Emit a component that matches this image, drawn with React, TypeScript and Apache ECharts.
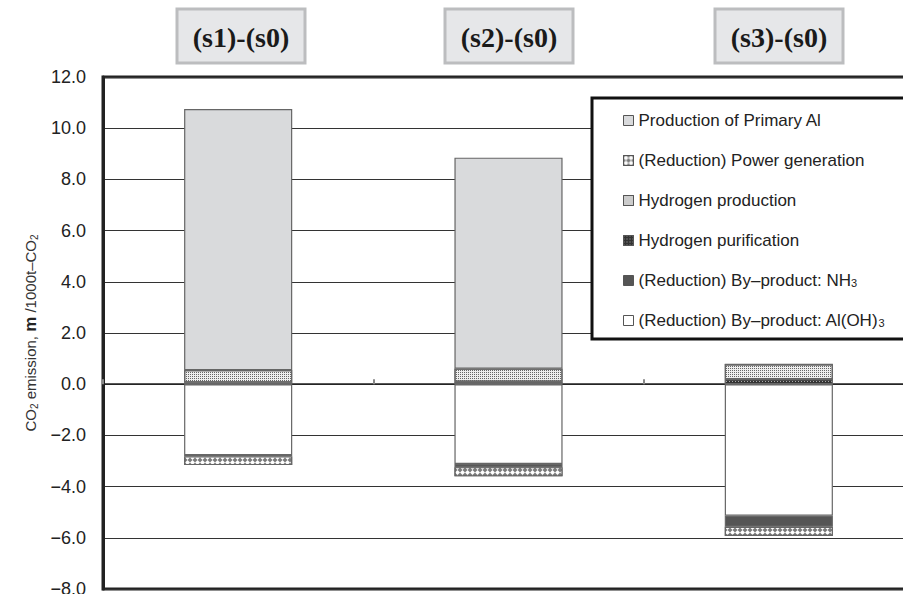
import React, { useEffect, useRef } from 'react';
import * as echarts from 'echarts';

const categories = ['(s1)-(s0)', '(s2)-(s0)', '(s3)-(s0)'];
const hydrogenPurification = [0.07, 0.1, 0.2];
const hydrogenProduction = [0.48, 0.51, 0.58];
const primaryAl = [10.2, 8.24, 0];
const byproductAlOH3 = [-2.77, -3.12, -5.14];
const byproductNH3 = [-0.05, -0.12, -0.43];
const powerGeneration = [-0.34, -0.36, -0.36];
const yMin = -8;
const yMax = 12;
const yInterval = 2;

const N_PRIMARY = 'Production of Primary Al';
const N_POWER = '(Reduction) Power generation';
const N_H2PROD = 'Hydrogen production';
const N_H2PUR = 'Hydrogen purification';
const N_NH3 = '(Reduction) By\u2013product: NH3';
const N_ALOH = '(Reduction) By\u2013product: Al(OH)3';
const legendOrder = [N_PRIMARY, N_POWER, N_H2PROD, N_H2PUR, N_NH3, N_ALOH];

const titleCenters = [241, 509, 779];

const SANS = '"Liberation Sans", Arial, sans-serif';

export default function App() {
  const ref = useRef<HTMLDivElement>(null);
  useEffect(() => {
    if (!ref.current) return;
    const chart = echarts.init(ref.current, null, { renderer: 'svg' });
    const border = { borderColor: '#666', borderWidth: 1.2 };
    const mk = (name: string, data: number[], itemStyle: any) => ({
      name,
      type: 'bar',
      stack: 'total',
      barWidth: '40%',
      data,
      itemStyle: { ...border, ...itemStyle },
      emphasis: { disabled: true },
    });
    const graphic: any[] = [
      {
        type: 'rect',
        z: 10,
        shape: { x: 592, y: 98, width: 330, height: 241 },
        style: { fill: '#fff', stroke: '#111', lineWidth: 3 },
      },
    ];
    categories.forEach((c, i) => {
      graphic.push({
        type: 'rect',
        z: 10,
        shape: { x: titleCenters[i] - 64, y: 9, width: 128, height: 54 },
        style: { fill: '#e6e7e9', stroke: '#bcbdbf', lineWidth: 3 },
      });
      graphic.push({
        type: 'text',
        z: 11,
        x: titleCenters[i],
        y: 37,
        style: {
          text: c,
          font: 'bold 28px "Liberation Serif", serif',
          fill: '#1a1a1a',
          align: 'center',
          verticalAlign: 'middle',
        },
      });
    });
    chart.setOption({
      animation: false,
      backgroundColor: '#fff',
      grid: {
        left: 103,
        top: 77,
        width: 811,
        height: 512,
        containLabel: false,
        outerBoundsMode: 'none',
        show: true,
        borderColor: '#222',
        borderWidth: 3,
      },
      graphic,
      legend: {
        data: legendOrder,
        orient: 'vertical',
        left: 623,
        top: 112,
        padding: 0,
        itemWidth: 10,
        itemHeight: 10,
        itemGap: 23,
        z: 20,
        selectedMode: false,
        icon: 'rect',
        itemStyle: { borderColor: '#555', borderWidth: 1 },
        formatter: (name: string) => {
          if (name.endsWith('3')) return `{t|${name.slice(0, -1)}}{s|3}`;
          return `{t|${name}}`;
        },
        textStyle: {
          color: '#222',
          fontSize: 17,
          fontFamily: SANS,
          lineHeight: 16,
          rich: {
            t: { fontSize: 17, lineHeight: 16, color: '#222', fontFamily: SANS },
            s: { fontSize: 11, lineHeight: 16, color: '#222', verticalAlign: 'bottom', fontFamily: SANS },
          },
        },
      },
      xAxis: {
        type: 'category',
        data: categories,
        axisLabel: { show: false },
        axisLine: { onZero: true, lineStyle: { color: '#222', width: 1.5 } },
        axisTick: { show: true, inside: true, length: 5, lineStyle: { color: '#888', width: 2 } },
        splitLine: { show: false },
      },
      yAxis: {
        type: 'value',
        min: yMin,
        max: yMax,
        interval: yInterval,
        axisLine: { show: true, lineStyle: { color: '#222', width: 3 } },
        axisTick: { show: false },
        splitLine: { show: true, lineStyle: { color: '#333', width: 1 } },
        axisLabel: {
          margin: 17,
          fontSize: 18,
          color: '#222',
          fontFamily: SANS,
          formatter: (v: number) => (v < 0 ? '\u2212' : '') + Math.abs(v).toFixed(1),
        },
        name: '{t|CO}{s|2}{t| emission, }{b|m}{t| /1000t\u2013CO}{s|2}',
        nameLocation: 'middle',
        nameRotate: 90,
        nameGap: 64,
        nameTextStyle: {
          color: '#333',
          fontSize: 15,
          fontFamily: SANS,
          rich: {
            t: { fontSize: 15, lineHeight: 18, color: '#333', fontFamily: SANS },
            s: { fontSize: 10, lineHeight: 18, color: '#333', verticalAlign: 'bottom', fontFamily: SANS },
            b: { fontSize: 17, lineHeight: 18, fontWeight: 'bold', color: '#222', fontFamily: SANS },
          },
        },
      },
      series: [
        mk(N_H2PUR, hydrogenPurification, {
          color: '#333333',
          decal: { symbol: 'rect', symbolSize: 1, color: '#aaaaaa', dashArrayX: [1, 2], dashArrayY: [1, 2] },
        }),
        mk(N_H2PROD, hydrogenProduction, {
          color: '#eeeeee',
          decal: { symbol: 'rect', symbolSize: 1, color: '#666666', dashArrayX: [1, 1], dashArrayY: [1, 1] },
        }),
        mk(N_PRIMARY, primaryAl, { color: '#d9dadc' }),
        mk(N_ALOH, byproductAlOH3, { color: '#ffffff' }),
        mk(N_NH3, byproductNH3, { color: '#555555' }),
        mk(N_POWER, powerGeneration, {
          color: '#7a7a7a',
          decal: { symbol: 'diamond', symbolSize: 1, color: '#ffffff', dashArrayX: [5, 0], dashArrayY: [5, 0] },
        }),
      ],
    });
    return () => chart.dispose();
  }, []);
  return (
    <div
      ref={ref}
      style={{ position: 'fixed', left: 0, top: 0, width: 903, height: 594, background: '#fff' }}
    />
  );
}
